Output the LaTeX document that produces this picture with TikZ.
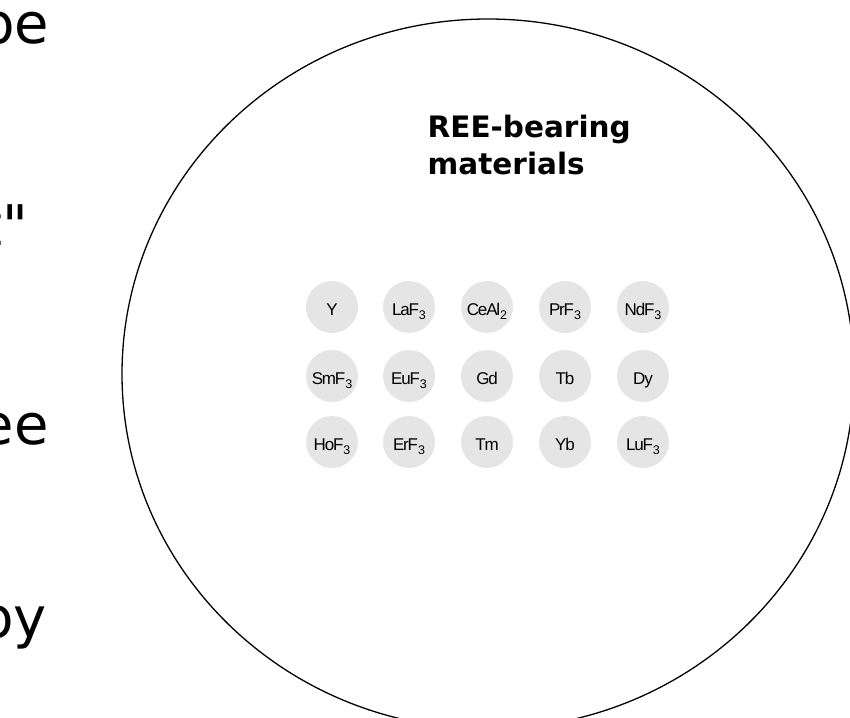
\documentclass[tikz,border=0pt]{standalone}
\usepackage{fontspec}
\setmainfont{DejaVu Sans}
\newfontfamily\labfont[LetterSpace=-7]{Liberation Sans}
\newcommand{\sbthree}[1]{\raisebox{-4pt}{\fontsize{12.5}{13}\selectfont #1}}
\begin{document}
\begin{tikzpicture}[x=1pt,y=-1pt,
  elem/.style={circle,fill=black!10,minimum size=52pt,inner sep=0pt,
    text height=17pt,text depth=1pt,
    font=\labfont\fontsize{17}{19}\selectfont},
  sidetext/.style={anchor=base east,inner sep=0pt,font=\fontsize{56}{60}\selectfont},
  titletext/.style={anchor=base west,inner sep=0pt,align=left,
    font=\bfseries\fontsize{29.5}{37}\selectfont}]
\useasboundingbox (0,0) rectangle (850,717);
\clip (0,0) rectangle (850,717);
% cut-off text on the left
\node[sidetext] (s1) at (49.5,44) {pe};
\node[sidetext] (s2) at (28.6,245) {t\textquotedbl};
\node[sidetext] (s3) at (49,444) {ee};
\node[sidetext] (s4) at (47,637) {py};
% big ellipse
\draw[line width=1.3pt] (488,374) ellipse [x radius=366pt, y radius=355pt];
% title
\node[titletext] (title) at (427.5,174) {REE-bearing\\materials};
% elements
\node[elem] (Y)  at (332,307) {Y};
\node[elem] (La) at (409,307) {LaF\sbthree{3}};
\node[elem] (Ce) at (487,307) {CeAl\sbthree{2}};
\node[elem] (Pr) at (565,307) {PrF\sbthree{3}};
\node[elem] (Nd) at (643,307) {NdF\sbthree{3}};
\node[elem] (Sm) at (332,376) {SmF\sbthree{3}};
\node[elem] (Eu) at (409,376) {EuF\sbthree{3}};
\node[elem] (Gd) at (487,376) {Gd};
\node[elem] (Tb) at (565,376) {Tb};
\node[elem] (Dy) at (643,376) {Dy};
\node[elem] (Ho) at (332,442) {HoF\sbthree{3}};
\node[elem] (Er) at (409,442) {ErF\sbthree{3}};
\node[elem] (Tm) at (487,442) {Tm};
\node[elem] (Yb) at (565,442) {Yb};
\node[elem] (Lu) at (643,442) {LuF\sbthree{3}};
\end{tikzpicture}
\end{document}
